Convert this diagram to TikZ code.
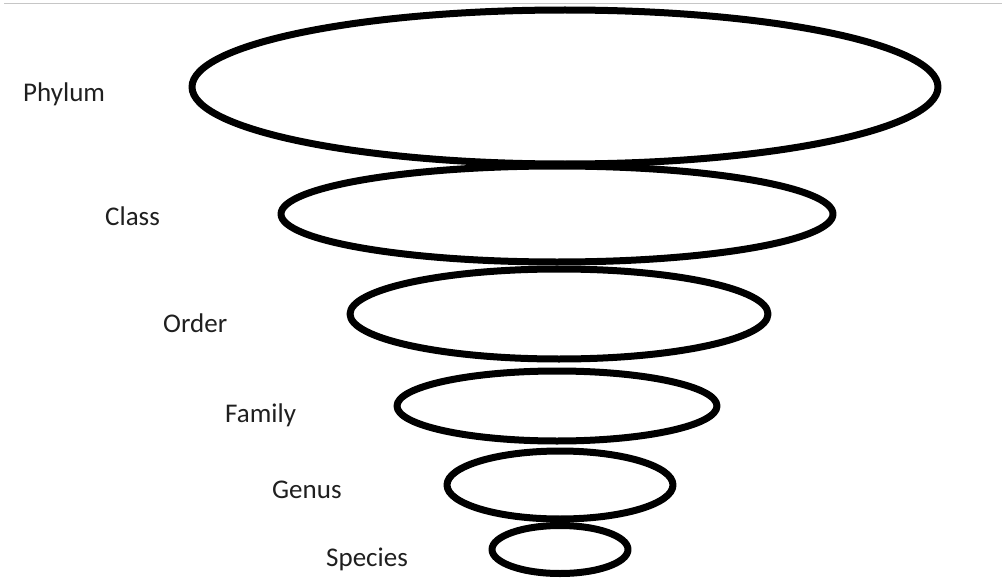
\documentclass[tikz,border=0pt]{standalone}
\usepackage{fontspec}
\setmainfont{Carlito}
\usepackage{tikz}
\usetikzlibrary{positioning}

\begin{document}
\begin{tikzpicture}[x=1pt,y=-1pt,line join=round,
    rank/.style={draw=black,line width=7pt},
    lbl/.style={anchor=base west,inner sep=0pt,text=black!88,
                font=\fontsize{27}{32}\selectfont}]
  % ---- frame -------------------------------------------------------------
  \useasboundingbox (0,0) rectangle (1002,586);
  \draw[gray!45,line width=1.5pt] (4,3.5) -- (1002,3.5);

  % ---- centres of the nested rings ---------------------------------------
  \coordinate (cPhylum)  at (565, 87);
  \coordinate (cClass)   at (557,214);
  \coordinate (cOrder)   at (559,314);
  \coordinate (cFamily)  at (557,406);
  \coordinate (cGenus)   at (560,485);
  \coordinate (cSpecies) at (560,549.5);

  % ---- rings, widest on top ----------------------------------------------
  \draw[rank] (cPhylum)  ellipse [x radius=373,y radius=77];
  \draw[rank] (cClass)   ellipse [x radius=276,y radius=48];
  \draw[rank] (cOrder)   ellipse [x radius=209,y radius=45];
  \draw[rank] (cFamily)  ellipse [x radius=160,y radius=35];
  \draw[rank] (cGenus)   ellipse [x radius=113,y radius=34];
  \draw[rank] (cSpecies) ellipse [x radius=68,y radius=24];

  % ---- rank names --------------------------------------------------------
  \node[lbl] (phylum)  at ( 23,102) {Phylum};
  \node[lbl] (class)   at (105,225) {Class};
  \node[lbl] (order)   at (163,332) {Order};
  \node[lbl] (family)  at (225,422) {Family};
  \node[lbl] (genus)   at (272,498) {Genus};
  \node[lbl] (species) at (326,566) {Species};
\end{tikzpicture}
\end{document}
